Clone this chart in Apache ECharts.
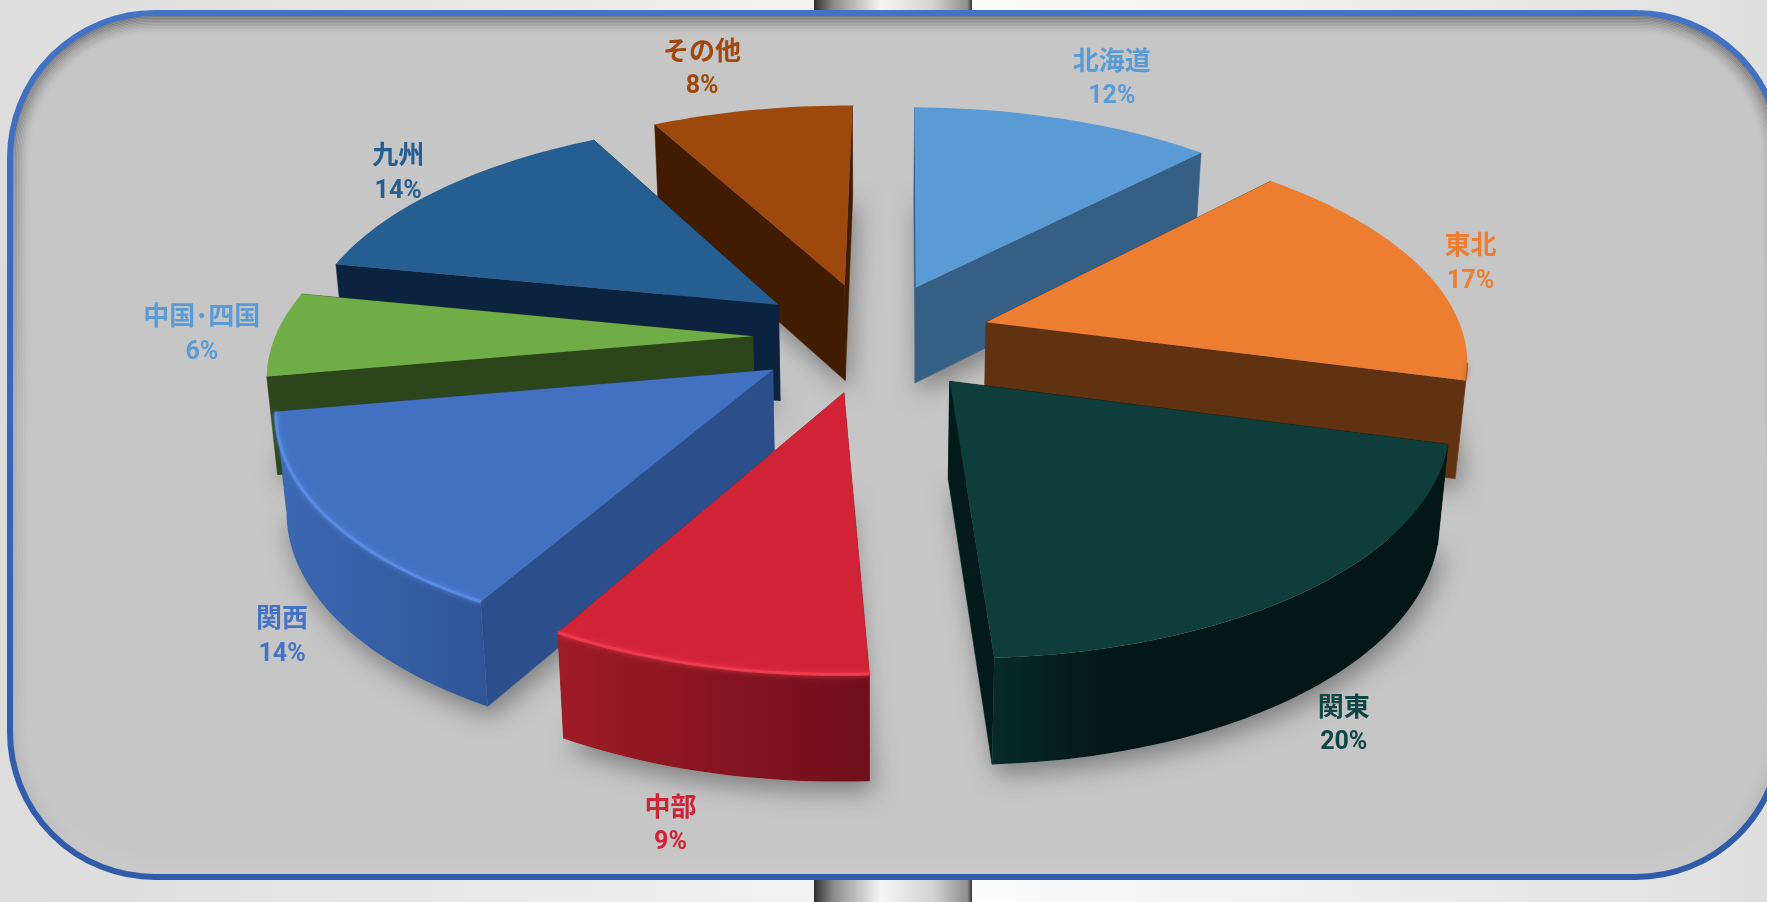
<!DOCTYPE html>
<html><head><meta charset="utf-8">
<style>html,body{margin:0;padding:0;width:1767px;height:902px;overflow:hidden}#c{width:1767px;height:902px}</style>
<script src="https://cdn.jsdelivr.net/npm/echarts@6/dist/echarts.min.js"></script>
</head><body><div id="c"></div>
<script>
// ---- chart data ----
const regions = ['北海道','東北','関東','中部','関西','中国･四国','九州','その他'];
const shares  = [12,17,20,9,14,6,14,8];

// ---- styles ----
const topColors  = ['#5b9bd5','#ed7d31','#0e3d3c','#d12336','#4271c2','#70ad47','#255e91','#9e480e'];
const sideColors = ['#365f85','#603211','#021a1a','#8e1722','#2c4f8c','#2c451a','#0c2340','#421c00'];
const rimFrom    = ['#365f85','#8a4a1a','#062b29','#9f1b27','#3c69b2','#3f6a26','#0c2340','#421c00'];
const rimTo      = ['#365f85','#603211','#021716','#6f0f1a','#2f5597','#2c451a','#0c2340','#421c00'];
const rimStop    = [1,1,0.25,1,1,1,1,1];
const edgeColors = [null,'#a9581f',null,'#f23c50','#5a8ee6','#86c45c',null,null];
const labelColors= ['#5b9bd5','#ed7d31','#114543','#d12336','#4472c4','#5b9bd5','#255e91','#9e480e'];
const labelShift = [[42,-36],[45,-3],[28,121],[-31,141],[-39,106],[-66,0],[-38,-14],[-44,-37]];

// ---- projection of the exploded, tilted pie ----
const K=1767/1568, CX=774*K, CY=299*K, AY=196*K, AX=424*K, PERSP=0.15, EXPLODE=0.25, FIRST_ANGLE=0.6;
const total = shares.reduce((a,b)=>a+b,0);
const rad = d=>d*Math.PI/180;
function project(X,Y){const w=1+PERSP*Y;return [CX+AX*X/w,CY-AY*Y/w];}
function drop(p){return [CX+(p[0]-CX)*0.982,p[1]+(86+0.03*(p[1]/K-298))*K];}
let acc=0;
const wedges = shares.map((v,i)=>{const a0=FIRST_ANGLE+acc/total*360;acc+=v;const a1=FIRST_ANGLE+acc/total*360;return {i,a0,a1,mid:(a0+a1)/2};});
function geometry(w){
  const ax=EXPLODE*Math.sin(rad(w.mid)), ay=EXPLODE*Math.cos(rad(w.mid));
  const apex=project(ax,ay), rim=[], angs=[];
  const n=Math.ceil((w.a1-w.a0)/1.5);
  for(let j=0;j<=n;j++){const t=w.a0+(w.a1-w.a0)*j/n;angs.push(t);
    rim.push(project(ax+Math.sin(rad(t)),ay+Math.cos(rad(t))));}
  return {apex,rim,angs};
}
const order = wedges.slice().sort((a,b)=>Math.cos(rad(b.mid))-Math.cos(rad(a.mid)));
const rows = order.map(w=>[w.i,shares[w.i]]);

function shadowItem(params,api){
  const w=wedges[api.value(0)], g=geometry(w);
  const bottom=[g.apex].concat(g.rim).map(drop);
  const common={fill:'#b4b4b4',shadowBlur:24,shadowColor:'rgba(0,0,0,0.36)',shadowOffsetX:4,shadowOffsetY:10};
  return {type:'polygon',shape:{points:bottom},style:common,silent:true};
}
function wedgeItem(params,api){
  const i=api.value(0), w=wedges[i], g=geometry(w), kids=[];
  const last=g.rim.length-1;
  const face=(a,b)=>({type:'polygon',shape:{points:[a,b,drop(b),drop(a)]},style:{fill:sideColors[i],stroke:sideColors[i],lineWidth:0.5}});
  kids.push(face(g.apex,g.rim[0]));
  kids.push(face(g.apex,g.rim[last]));
  const front=[];
  g.rim.forEach((p,j)=>{if(Math.cos(rad(g.angs[j]))<-0.16)front.push(p);});
  if(front.length>1){
    kids.push({type:'polygon',shape:{points:front.concat(front.slice().reverse().map(drop))},
      style:{fill:new echarts.graphic.LinearGradient(0,0,1,0,[{offset:0,color:rimFrom[i]},{offset:rimStop[i],color:rimTo[i]},{offset:1,color:rimTo[i]}])}});
  }
  kids.push({type:'polygon',shape:{points:[g.apex].concat(g.rim)},style:{fill:topColors[i]}});
  if(edgeColors[i]&&front.length>1){
    kids.push({type:'polyline',shape:{points:front},style:{fill:null,stroke:edgeColors[i],lineWidth:i===1||i===5?1.5:3,opacity:.9,shadowBlur:5,shadowColor:edgeColors[i]}});
  }
  // label
  const R=1+EXPLODE, p=project(R*Math.sin(rad(w.mid)),R*Math.cos(rad(w.mid)));
  const s=labelShift[i], pct=Math.round(shares[i]/total*100)+'%';
  kids.push({type:'text',z2:50,style:{x:p[0]+s[0]*K,y:p[1]+s[1]*K,text:'{n|'+regions[i]+'}\n{p|'+pct+'}',align:'center',verticalAlign:'middle',
    fill:labelColors[i],rich:{
      n:{fontFamily:'"Noto Sans CJK JP"',fontWeight:700,fontSize:26,lineHeight:37,fill:labelColors[i],align:'center'},
      p:{fontFamily:'Roboto,"Noto Sans"',fontWeight:700,fontSize:25,lineHeight:37,fill:labelColors[i],align:'center'}}}});
  return {type:'group',children:kids};
}

// ---- backdrop ----
const PX=10,PY=13,PW=1771,PH=864,PR=145;
const lin=(x0,y0,x1,y1,st)=>new echarts.graphic.LinearGradient(x0,y0,x1,y1,st);
const metal=lin(0,0,1,0,[{offset:0,color:'#2e2e2e'},{offset:.12,color:'#8a8a8a'},{offset:.42,color:'#f6f6f6'},{offset:.75,color:'#d4d4d4'},{offset:.97,color:'#8f8f8f'},{offset:1,color:'#333'}]);
const graphicEls=[
 {type:'rect',z:0,shape:{x:0,y:0,width:1767,height:902},style:{fill:lin(0,0,1,0,[{offset:0,color:'#dcdcdc'},{offset:.5,color:'#f4f4f4'},{offset:.56,color:'#fbfbfb'},{offset:1,color:'#dfdfdf'}])}},
 {type:'rect',z:1,shape:{x:814,y:0,width:158,height:20},style:{fill:metal}},
 {type:'rect',z:1,shape:{x:814,y:870,width:158,height:32},style:{fill:metal}},
 {type:'rect',z:2,shape:{x:PX,y:PY,width:PW,height:PH,r:PR},style:{fill:'#c6c6c6'}}
];
for(let j=0;j<12;j++){
  const a=0.3*Math.pow(1-j/12,1.5), s=3+j*1.5;
  graphicEls.push({type:'rect',z:3,silent:true,shape:{x:PX+s,y:PY+s,width:PW-2*s,height:PH-2*s,r:Math.max(PR-s,1)},
    style:{fill:null,lineWidth:2,stroke:lin(0,0,0,1,[{offset:0,color:'rgba(0,0,0,'+a+')'},{offset:.45,color:'rgba(0,0,0,'+(a*.35)+')'},{offset:.92,color:'rgba(0,0,0,'+(a*.15)+')'},{offset:1,color:'rgba(0,0,0,0)'}])}});
}
for(let j=0;j<10;j++){
  const a=0.07*(1-j/10), s=4+j*2;
  graphicEls.push({type:'rect',z:3,silent:true,shape:{x:PX+s,y:PY+s,width:PW-2*s,height:PH-2*s,r:Math.max(PR-s,1)},
    style:{fill:null,lineWidth:2.5,stroke:lin(0,0,0,1,[{offset:0,color:'rgba(255,255,255,0)'},{offset:.9,color:'rgba(255,255,255,0)'},{offset:1,color:'rgba(255,255,255,'+a+')'}])}});
}
graphicEls.push({type:'rect',z:4,silent:true,shape:{x:PX,y:PY,width:PW,height:PH,r:PR},style:{fill:null,stroke:lin(0,0,0,1,[{offset:0,color:'#4472c4'},{offset:1,color:'#2f5ba8'}]),lineWidth:6}});

const chart=echarts.init(document.getElementById('c'),null,{renderer:'canvas'});
chart.setOption({
  animation:false,
  graphic:{elements:graphicEls},
  series:[
    {type:'custom',name:'shadow',coordinateSystem:'none',z:5,silent:true,clip:false,renderItem:shadowItem,data:rows},
    {type:'custom',name:'地域別構成比',coordinateSystem:'none',z:6,clip:false,renderItem:wedgeItem,data:rows}
  ]
});
</script></body></html>
